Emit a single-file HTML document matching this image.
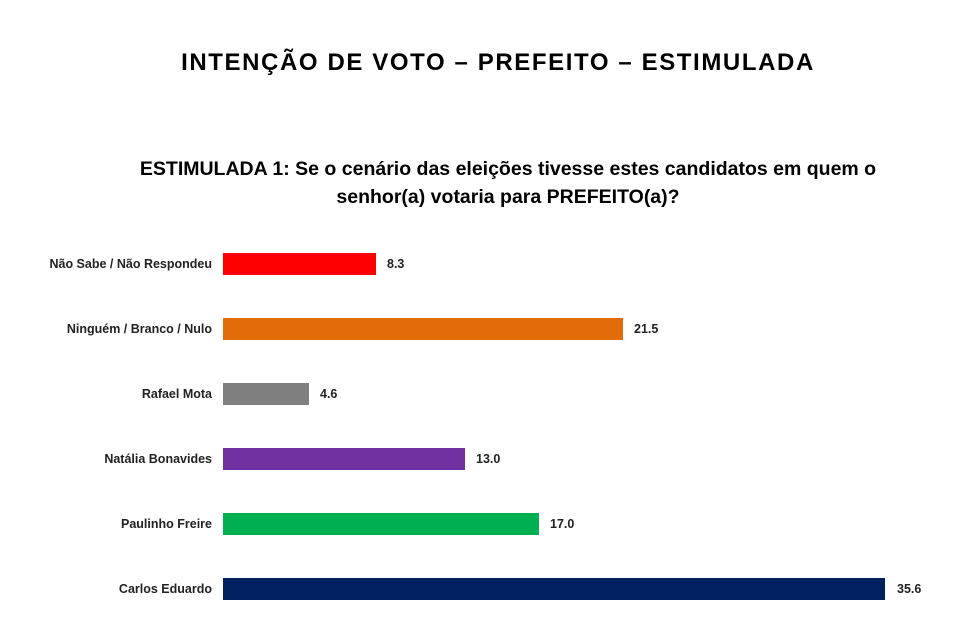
<!DOCTYPE html>
<html><head><meta charset="utf-8"><style>
body{margin:0;width:972px;height:638px;background:#fff;font-family:"Liberation Sans",sans-serif;position:relative;overflow:hidden}
.t{position:absolute;width:972px;text-align:center;font-weight:bold;color:#000}
.l{position:absolute;right:760px;font-size:12.5px;font-weight:bold;color:#222;white-space:nowrap;line-height:22px}
.b{position:absolute;left:223px;height:22px}
.v{position:absolute;font-size:12.5px;font-weight:bold;color:#222;line-height:22px}
</style></head><body>
<div class="t" style="top:49px;left:12px;font-size:24px;letter-spacing:1.6px">INTENÇÃO DE VOTO – PREFEITO – ESTIMULADA</div>
<div class="t" style="top:155px;left:22px;font-size:19.5px;line-height:28px">ESTIMULADA 1: Se o cenário das eleições tivesse estes candidatos em quem o<br>senhor(a) votaria para PREFEITO(a)?</div>

<div class="l" style="top:253px">Não Sabe / Não Respondeu</div>
<div class="b" style="top:253px;width:153px;background:#ff0000"></div>
<div class="v" style="top:253px;left:387px">8.3</div>

<div class="l" style="top:318px">Ninguém / Branco / Nulo</div>
<div class="b" style="top:318px;width:400px;background:#e36c0a"></div>
<div class="v" style="top:318px;left:634px">21.5</div>

<div class="l" style="top:383px">Rafael Mota</div>
<div class="b" style="top:383px;width:86px;background:#7f7f7f"></div>
<div class="v" style="top:383px;left:320px">4.6</div>

<div class="l" style="top:448px">Natália Bonavides</div>
<div class="b" style="top:448px;width:242px;background:#7030a0"></div>
<div class="v" style="top:448px;left:476px">13.0</div>

<div class="l" style="top:513px">Paulinho Freire</div>
<div class="b" style="top:513px;width:316px;background:#00b050"></div>
<div class="v" style="top:513px;left:550px">17.0</div>

<div class="l" style="top:578px">Carlos Eduardo</div>
<div class="b" style="top:578px;width:662px;background:#002060"></div>
<div class="v" style="top:578px;left:897px">35.6</div>
</body></html>
